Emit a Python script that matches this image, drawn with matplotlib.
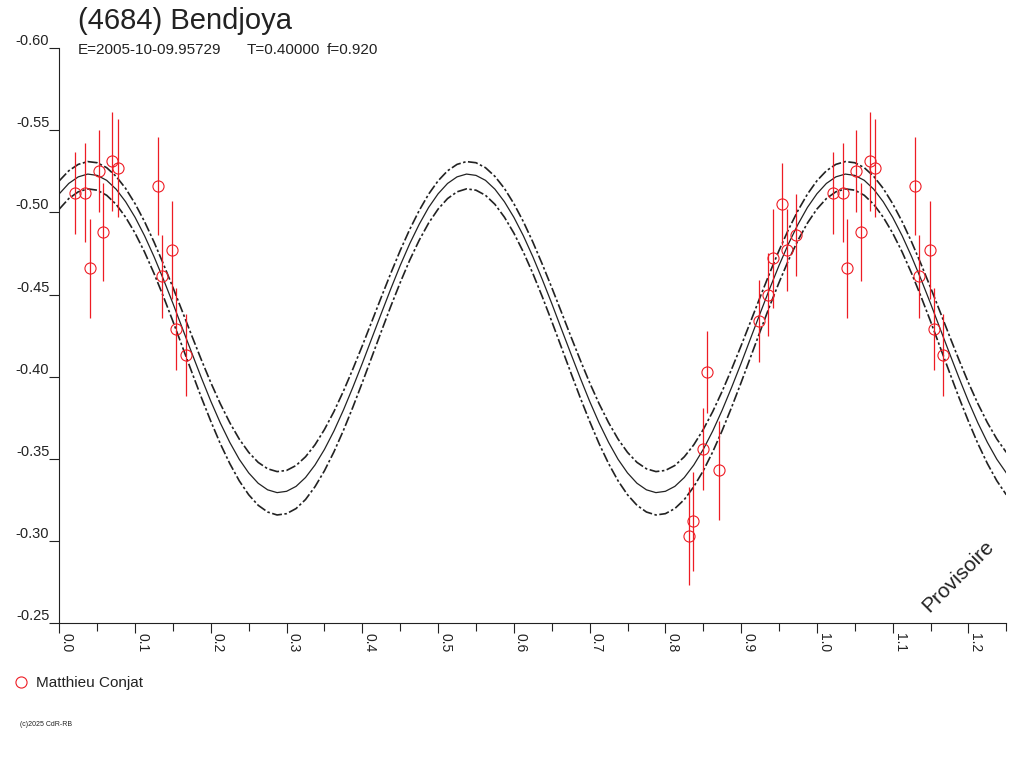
import numpy as np
import matplotlib
matplotlib.use("Agg")
import matplotlib.pyplot as plt
from matplotlib.lines import Line2D
from matplotlib.ticker import MultipleLocator, FormatStrFormatter

plt.rcParams['font.family'] = ['Liberation Sans', 'DejaVu Sans']
plt.rcParams['axes.unicode_minus'] = False

TITLE = "(4684) Bendjoya"
EPOCH = "E=2005-10-09.95729"
PERIOD = "T=0.40000"
FRAC = "f=0.920"
OBSERVER = "Matthieu Conjat"

# observations: rotational phase, reduced magnitude, 1-sigma error
phase = [0.021, 0.034, 0.040, 0.052, 0.058, 0.070, 0.077, 0.130, 0.135, 0.149,
         0.154, 0.167, 0.831, 0.837, 0.849, 0.855, 0.871, 0.924, 0.936, 0.942,
         0.954, 0.960, 0.973]
mag = [-0.512, -0.512, -0.466, -0.525, -0.488, -0.531, -0.527, -0.516, -0.461, -0.477,
       -0.429, -0.413, -0.303, -0.312, -0.356, -0.403, -0.343, -0.434, -0.450, -0.472,
       -0.505, -0.477, -0.486]
err = [0.025, 0.030, 0.030, 0.025, 0.030, 0.030, 0.030, 0.030, 0.025, 0.030,
       0.025, 0.025, 0.030, 0.030, 0.025, 0.025, 0.030, 0.025, 0.025, 0.030,
       0.025, 0.025, 0.025]

# fitted light curve and its envelope, read every 0.0125 in phase from 0 to 1.25
fit_phase = np.linspace(0.0, 1.25, 101)
fit_mid = [
    -0.5113, -0.5176, -0.5216, -0.5233, -0.5225, -0.5195, -0.5141, -0.5065, -0.4970, -0.4858,
    -0.4731, -0.4592, -0.4446, -0.4294, -0.4143, -0.3994, -0.3851, -0.3719, -0.3601, -0.3498,
    -0.3415, -0.3352, -0.3312, -0.3295, -0.3303, -0.3333, -0.3387, -0.3463, -0.3558, -0.3670,
    -0.3797, -0.3936, -0.4082, -0.4234, -0.4385, -0.4534, -0.4677, -0.4809, -0.4927, -0.5030,
    -0.5113, -0.5176, -0.5216, -0.5233, -0.5225, -0.5195, -0.5141, -0.5065, -0.4970, -0.4858,
    -0.4731, -0.4592, -0.4446, -0.4294, -0.4143, -0.3994, -0.3851, -0.3719, -0.3601, -0.3498,
    -0.3415, -0.3352, -0.3312, -0.3295, -0.3303, -0.3333, -0.3387, -0.3463, -0.3558, -0.3670,
    -0.3797, -0.3936, -0.4082, -0.4234, -0.4385, -0.4534, -0.4677, -0.4809, -0.4927, -0.5030,
    -0.5113, -0.5176, -0.5216, -0.5233, -0.5225, -0.5195, -0.5141, -0.5065, -0.4970, -0.4858,
    -0.4731, -0.4592, -0.4446, -0.4294, -0.4143, -0.3994, -0.3851, -0.3719, -0.3601, -0.3498,
    -0.3415]
fit_hi = [
    -0.5192, -0.5253, -0.5292, -0.5309, -0.5302, -0.5272, -0.5219, -0.5146, -0.5053, -0.4944,
    -0.4820, -0.4685, -0.4543, -0.4396, -0.4248, -0.4103, -0.3964, -0.3836, -0.3721, -0.3621,
    -0.3540, -0.3479, -0.3440, -0.3423, -0.3430, -0.3460, -0.3513, -0.3586, -0.3679, -0.3788,
    -0.3912, -0.4047, -0.4189, -0.4336, -0.4484, -0.4629, -0.4768, -0.4896, -0.5011, -0.5111,
    -0.5192, -0.5253, -0.5292, -0.5309, -0.5302, -0.5272, -0.5219, -0.5146, -0.5053, -0.4944,
    -0.4820, -0.4685, -0.4543, -0.4396, -0.4248, -0.4103, -0.3964, -0.3836, -0.3721, -0.3621,
    -0.3540, -0.3479, -0.3440, -0.3423, -0.3430, -0.3460, -0.3513, -0.3586, -0.3679, -0.3788,
    -0.3912, -0.4047, -0.4189, -0.4336, -0.4484, -0.4629, -0.4768, -0.4896, -0.5011, -0.5111,
    -0.5192, -0.5253, -0.5292, -0.5309, -0.5302, -0.5272, -0.5219, -0.5146, -0.5053, -0.4944,
    -0.4820, -0.4685, -0.4543, -0.4396, -0.4248, -0.4103, -0.3964, -0.3836, -0.3721, -0.3621,
    -0.3540]
fit_lo = [
    -0.5020, -0.5084, -0.5125, -0.5143, -0.5135, -0.5104, -0.5049, -0.4971, -0.4874, -0.4759,
    -0.4629, -0.4487, -0.4337, -0.4182, -0.4027, -0.3874, -0.3729, -0.3593, -0.3472, -0.3367,
    -0.3282, -0.3218, -0.3177, -0.3159, -0.3167, -0.3198, -0.3253, -0.3331, -0.3428, -0.3543,
    -0.3673, -0.3815, -0.3965, -0.4120, -0.4275, -0.4428, -0.4573, -0.4709, -0.4830, -0.4935,
    -0.5020, -0.5084, -0.5125, -0.5143, -0.5135, -0.5104, -0.5049, -0.4971, -0.4874, -0.4759,
    -0.4629, -0.4487, -0.4337, -0.4182, -0.4027, -0.3874, -0.3729, -0.3593, -0.3472, -0.3367,
    -0.3282, -0.3218, -0.3177, -0.3159, -0.3167, -0.3198, -0.3253, -0.3331, -0.3428, -0.3543,
    -0.3673, -0.3815, -0.3965, -0.4120, -0.4275, -0.4428, -0.4573, -0.4709, -0.4830, -0.4935,
    -0.5020, -0.5084, -0.5125, -0.5143, -0.5135, -0.5104, -0.5049, -0.4971, -0.4874, -0.4759,
    -0.4629, -0.4487, -0.4337, -0.4182, -0.4027, -0.3874, -0.3729, -0.3593, -0.3472, -0.3367,
    -0.3282]

ink = '#222222'
red = '#ee1c24'
W, H = 1024, 768

fig = plt.figure(figsize=(10.24, 7.68), dpi=100)
ax = fig.add_axes([59.3 / W, 1 - 623.3 / H, 947 / W, 575.3 / H])

ax.plot(fit_phase, fit_mid, color=ink, lw=0.9)
dash = (0, (6, 1.5, 1.5, 1.5))
ax.plot(fit_phase, fit_hi, color=ink, lw=1.2, linestyle=dash)
ax.plot(fit_phase, fit_lo, color=ink, lw=1.2, linestyle=dash)

# data folded onto phase and phase+1 while inside the window
ph = np.array(phase)
mg = np.array(mag)
er = np.array(err)
rep = ph + 1 <= 1.25
xs = np.concatenate([ph, ph[rep] + 1])
ys = np.concatenate([mg, mg[rep]])
es = np.concatenate([er, er[rep]])
ax.errorbar(xs, ys, yerr=es, fmt='o', mfc='none', mec=red, ecolor=red,
            ms=8, mew=0.8, elinewidth=0.9, capsize=0, zorder=3)

ax.set_xlim(0, 1.25)
ax.set_ylim(-0.25, -0.60)
ax.spines['top'].set_visible(False)
ax.spines['right'].set_visible(False)
for s in ('left', 'bottom'):
    ax.spines[s].set_color(ink)
    ax.spines[s].set_linewidth(0.8)

ax.xaxis.set_major_locator(MultipleLocator(0.1))
ax.xaxis.set_minor_locator(MultipleLocator(0.05))
ax.xaxis.set_major_formatter(FormatStrFormatter('%.1f'))
ax.yaxis.set_major_locator(MultipleLocator(0.05))
ax.yaxis.set_major_formatter(FormatStrFormatter('%.2f'))

ax.tick_params(axis='x', which='major', length=7.2, width=0.8, pad=0,
               labelsize=10, labelrotation=-90, colors=ink)
ax.tick_params(axis='x', which='minor', length=6, width=0.8, colors=ink)
ax.tick_params(axis='y', which='major', length=7.2, width=0.8, pad=0,
               labelsize=10.5, colors=ink)
for lbl in ax.get_xticklabels():
    lbl.set_horizontalalignment('left')
for lbl in ax.get_yticklabels():
    lbl.set_verticalalignment('bottom')

fig.text(78 / W, 1 - 29 / H, TITLE, fontsize=21, color=ink, va='baseline')
fig.text(78 / W, 1 - 54 / H, EPOCH, fontsize=11, color=ink, va='baseline')
fig.text(247 / W, 1 - 54 / H, PERIOD, fontsize=11, color=ink, va='baseline')
fig.text(327 / W, 1 - 54 / H, FRAC, fontsize=11, color=ink, va='baseline')

fig.text(958 / W, 1 - 576 / H, "Provisoire", fontsize=15, color=ink,
         rotation=45, ha='center', va='center')

handle = Line2D([], [], marker='o', ls='none', mfc='none', mec=red, ms=8, mew=0.8)
fig.legend([handle], [OBSERVER], loc='center left', bbox_to_anchor=(15 / W, 1 - 683 / H),
           frameon=False, fontsize=11, handlelength=0.8, handletextpad=0.55,
           borderpad=0, borderaxespad=0, labelcolor=ink)

fig.text(20 / W, 1 - 724 / H, "(c)2025 CdR-RB", fontsize=5, color=ink, va='center')

fig.savefig('out.png', dpi=100)
